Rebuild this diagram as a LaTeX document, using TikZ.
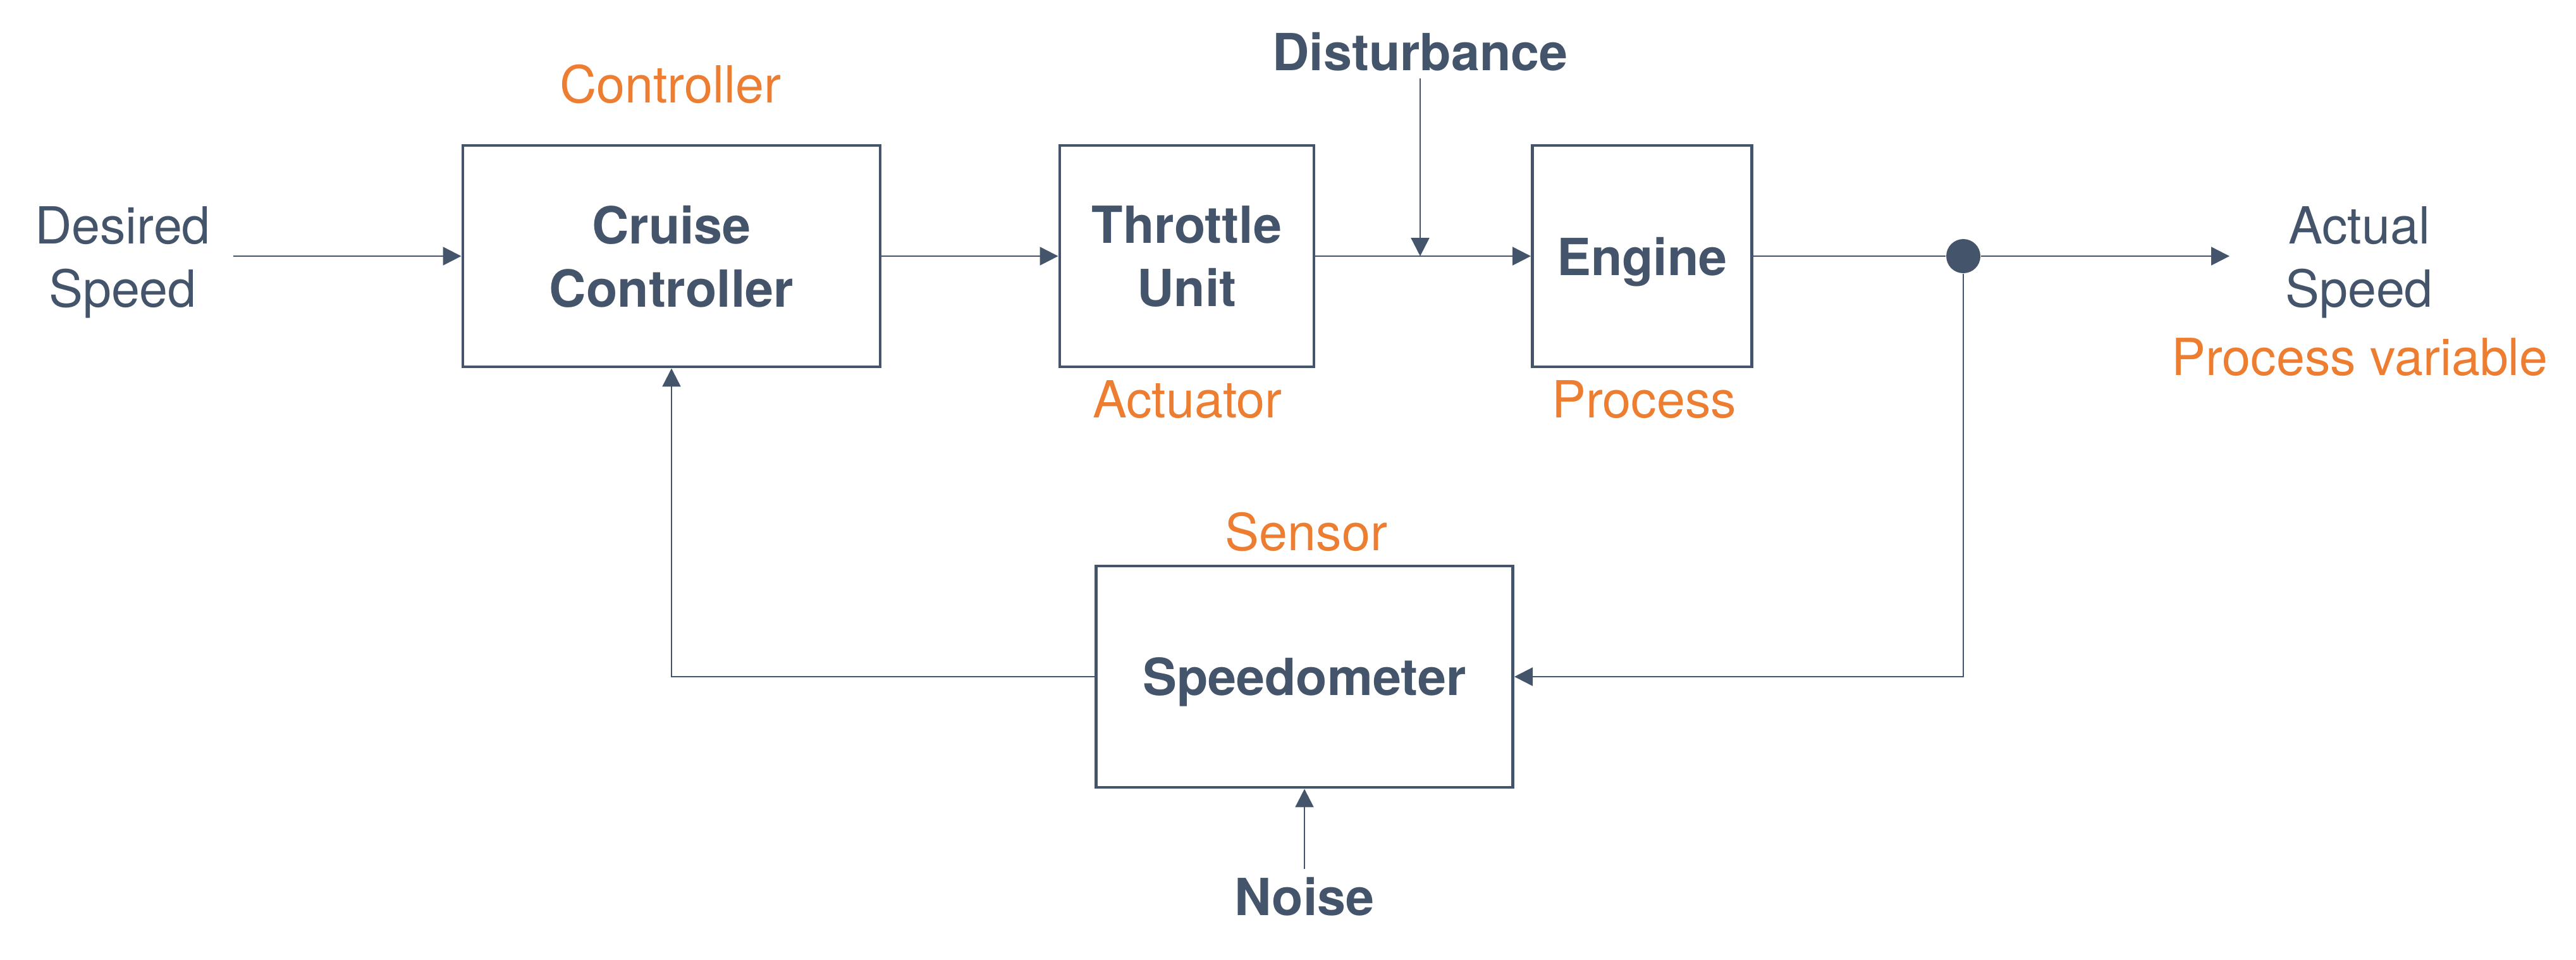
\documentclass[tikz,border=0pt]{standalone}
\usepackage{fontspec}
\setmainfont{TeX Gyre Heros}
\usetikzlibrary{arrows.meta,positioning,calc}
\definecolor{slate}{HTML}{44546A}
\definecolor{accent}{HTML}{ED7D31}
\newcommand\diagsize{\fontsize{23}{28.45}\selectfont}
\tikzset{
    block/.style =  {rectangle,
                    fill=white,
                    draw=slate,
                    text=slate,
                    line width=1.4pt,
                    align=center,
                    text depth=0pt,
                    font=\diagsize\bfseries},
    signal/.style = {text=slate,
                    align=center},
    role/.style =   {text=accent,
                    anchor=base},
    tap/.style =    {circle,
                    fill=slate,
                    inner sep=0pt,
                    minimum size=5.4mm},
    wire/.style =   {draw=slate,
                    line width=0.7pt},
    >={Triangle[length=2.9mm,width=2.9mm]}}

\begin{document}
\begin{tikzpicture}[font=\diagsize]
                \useasboundingbox (0,0) rectangle (40.74,-15.17);
                % blocks
                \node[block, minimum width=6.6cm,  minimum height=3.5cm] (ctrl) at (10.62,-4.05)  {Cruise\\Controller};
                \node[block, minimum width=4.02cm, minimum height=3.5cm] (thr)  at (18.77,-4.05)  {Throttle\\Unit};
                \node[block, minimum width=3.47cm, minimum height=3.5cm] (eng)  at (25.97,-4.05)  {Engine};
                \node[block, minimum width=6.59cm, minimum height=3.5cm] (spd)  at (20.63,-10.70) {Speedometer};
                \node[tap]          (tap)     at (31.05,-4.05) {};
                % signals
                \node[signal]       (desired) at (1.94,-4.15)  {Desired\\Speed};
                \node[signal]       (actual)  at (37.31,-4.15) {Actual\\Speed};
                \node[signal, font=\diagsize\bfseries, anchor=base] (dist)  at (22.46,-1.11)  {Disturbance};
                \node[signal, font=\diagsize\bfseries, anchor=base] (noise) at (20.63,-14.47) {Noise};
                \coordinate         (out)     at (35.26,-4.05);
                % roles
                \node[role]         (ctrlrole) at (10.60,-1.62) {Controller};
                \node[role]         (thrrole)  at (18.78,-6.60) {Actuator};
                \node[role]         (engrole)  at (26.00,-6.60) {Process};
                \node[role]         (spdrole)  at (20.66,-8.70) {Sensor};
                \node[role]         (pvrole)   at (37.32,-5.93) {Process variable};
                % connectors
                \path (desired.east |- ctrl.west) edge [wire,->,shorten <=2.4mm] (ctrl.west)
                      (ctrl)  edge [wire,->] (thr)
                      (thr)   edge [wire,->] (eng)
                      (dist)  edge [wire,->] (dist |- thr.east)
                      (noise) edge [wire,->] (spd);
                \draw [wire]     (eng) -- (tap);
                \draw [wire,->]  (tap) -- (out);
                \draw [wire,->]  (tap) |- (spd);
                \draw [wire,->]  (spd) -| (ctrl);
        \end{tikzpicture}
\end{document}
